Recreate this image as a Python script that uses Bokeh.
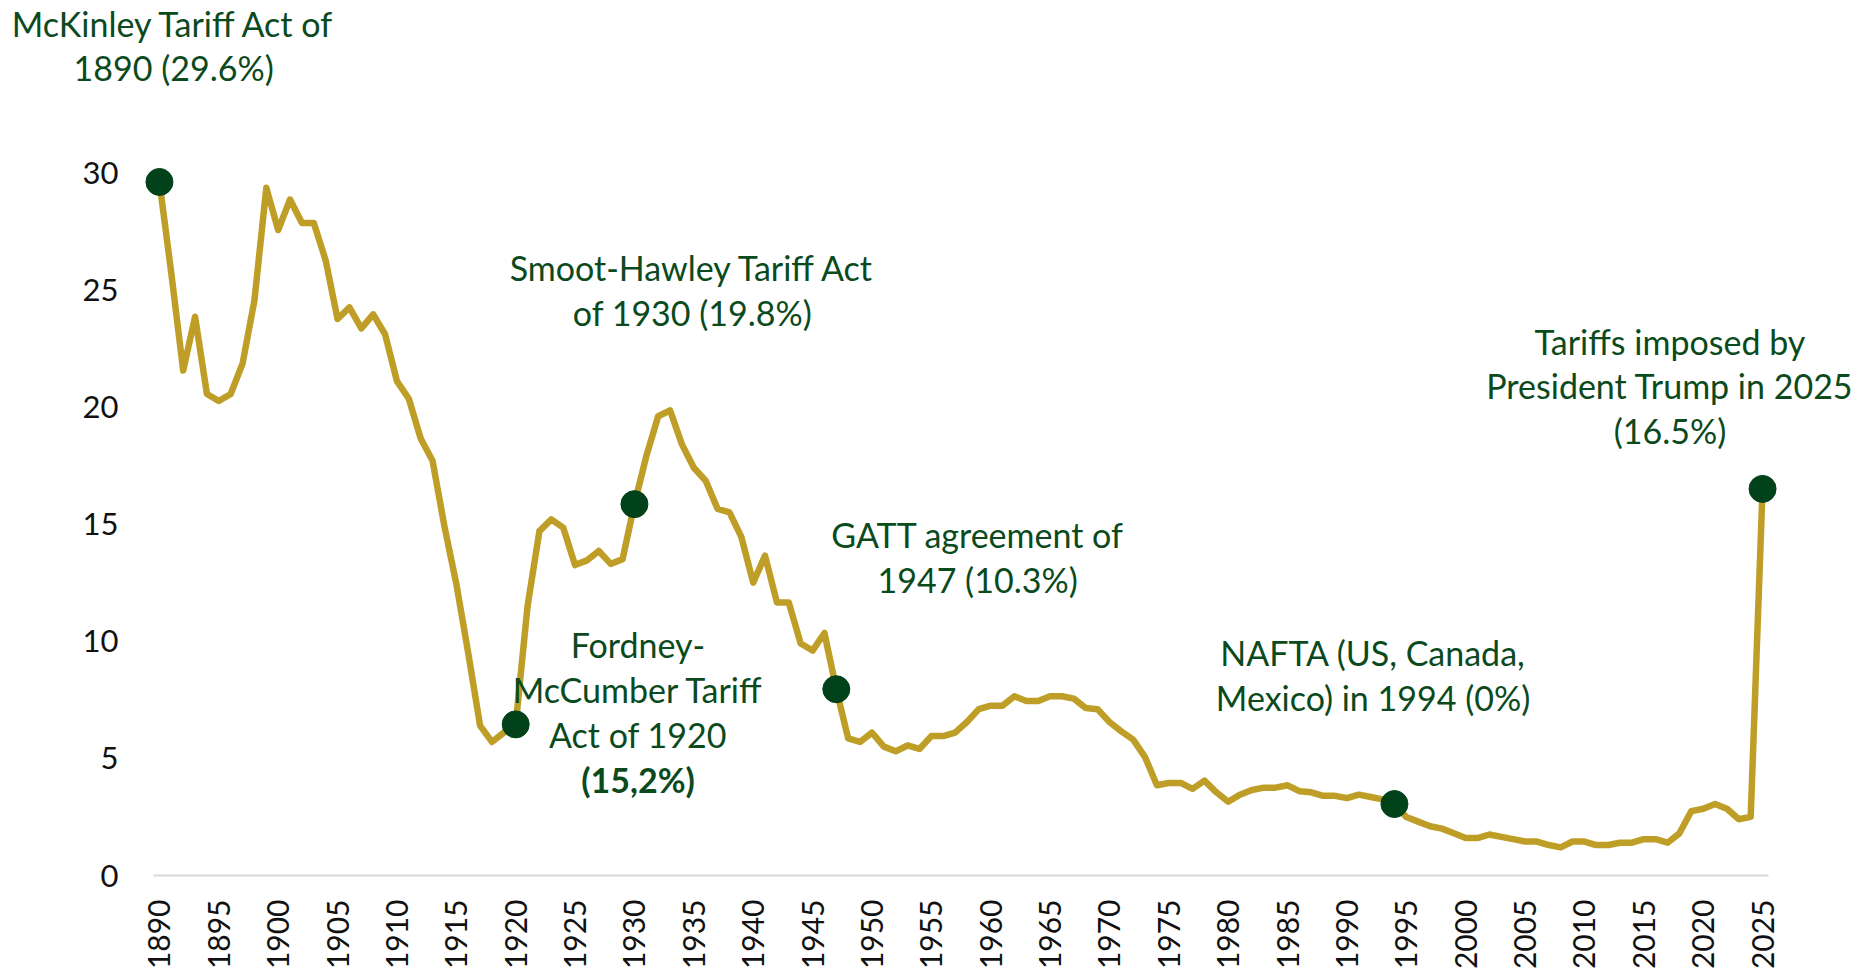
from bokeh.plotting import figure
from bokeh.models import Range1d, FixedTicker, Label, ColumnDataSource
from bokeh.embed import file_html
from bokeh.resources import INLINE

# ---------------- data ----------------
years = list(range(1890, 2026))
tariff = [
    29.6, 25.7, 21.55, 23.85, 20.55, 20.25, 20.55, 21.85, 24.55, 29.35,   # 1890-1899
    27.55, 28.85, 27.85, 27.85, 26.25, 23.75, 24.25, 23.35, 23.95, 23.1,  # 1900-1909
    21.1, 20.35, 18.65, 17.7, 14.9, 12.45, 9.5, 6.4, 5.7, 6.1,            # 1910-1919
    6.45, 11.5, 14.7, 15.2, 14.85, 13.25, 13.45, 13.85, 13.3, 13.5,       # 1920-1929
    15.85, 17.9, 19.6, 19.85, 18.4, 17.4, 16.85, 15.65, 15.5, 14.45,      # 1930-1939
    12.5, 13.65, 11.65, 11.65, 9.9, 9.6, 10.35, 7.95, 5.85, 5.7,          # 1940-1949
    6.1, 5.5, 5.3, 5.55, 5.4, 5.95, 5.95, 6.1, 6.55, 7.1,                 # 1950-1959
    7.25, 7.25, 7.65, 7.45, 7.45, 7.65, 7.65, 7.55, 7.15, 7.1,            # 1960-1969
    6.55, 6.15, 5.8, 5.05, 3.85, 3.95, 3.95, 3.7, 4.05, 3.55,             # 1970-1979
    3.15, 3.45, 3.65, 3.75, 3.75, 3.85, 3.6, 3.55, 3.4, 3.4,              # 1980-1989
    3.3, 3.45, 3.35, 3.25, 3.05, 2.5, 2.3, 2.1, 2.0, 1.8,                 # 1990-1999
    1.6, 1.6, 1.75, 1.65, 1.55, 1.45, 1.45, 1.3, 1.2, 1.45,               # 2000-2009
    1.45, 1.3, 1.3, 1.4, 1.4, 1.55, 1.55, 1.4, 1.8, 2.75,                 # 2010-2019
    2.85, 3.05, 2.85, 2.4, 2.5, 16.5,                                     # 2020-2025
]
assert len(years) == len(tariff)

highlight_years = [1890, 1920, 1930, 1947, 1994, 2025]
x_ticks = [1890, 1895, 1900, 1905, 1910, 1915, 1920, 1925, 1930, 1935, 1940,
           1945, 1950, 1955, 1960, 1965, 1970, 1975, 1980, 1985, 1990, 1995,
           2000, 2005, 2010, 2015, 2020, 2025]
y_ticks = [0, 5, 10, 15, 20, 25, 30]

# annotation texts: (text, x, y, bold)
annotations = [
    ("McKinley Tariff Act of", 1891.2, 36.35, False),
    ("1890 (29.6%)", 1891.2, 34.5, False),
    ("Smoot-Hawley Tariff Act", 1934.9, 25.95, False),
    ("of 1930 (19.8%)", 1934.9, 24.05, False),
    ("Fordney-", 1930.3, 9.85, False),
    ("McCumber Tariff", 1930.3, 7.93, False),
    ("Act of 1920", 1930.3, 6.0, False),
    ("(15,2%)", 1930.3, 4.1, True),
    ("GATT agreement of", 1958.9, 14.55, False),
    ("1947 (10.3%)", 1958.9, 12.65, False),
    ("NAFTA (US, Canada,", 1992.2, 9.5, False),
    ("Mexico) in 1994 (0%)", 1992.2, 7.58, False),
    ("Tariffs imposed by", 2017.2, 22.8, False),
    ("President Trump in 2025", 2017.2, 20.9, False),
    ("(16.5%)", 2017.2, 18.98, False),
]

# ---------------- styling ----------------
LINE_COLOR = "#BF9E27"
DOT_COLOR = "#02421A"
TEXT_COLOR = "#0B4A1D"
FONT = "Lato"

W, H = 1852, 969
cat_lo = years[0] - 0.5
cat_hi = years[-1] + 0.5
px_per_year = 11.875
px_per_unit = 23.43
x_lo = cat_lo - 153 / px_per_year
x_hi = cat_hi + (W - 1768) / px_per_year
y_lo = -(H - 875) / px_per_unit
y_hi = 875 / px_per_unit

p = figure(
    width=W, height=H,
    x_range=Range1d(x_lo, x_hi),
    y_range=Range1d(y_lo, y_hi),
    output_backend="svg", toolbar_location=None,
    min_border_left=0, min_border_right=0,
    min_border_top=0, min_border_bottom=0,
)
p.outline_line_color = None
p.background_fill_color = "white"
p.border_fill_color = "white"
p.xgrid.visible = False
p.ygrid.visible = False

src = ColumnDataSource(dict(year=years, val=tariff))
p.line("year", "val", source=src, line_color=LINE_COLOR, line_width=6.5,
       line_join="round")

hx = [y for y in highlight_years]
hy = [tariff[years.index(y)] for y in highlight_years]
p.scatter(hx, hy, size=27, fill_color=DOT_COLOR, line_color=DOT_COLOR)

# axes (drawn at fixed locations inside the frame)
xa = p.xaxis[0]
xa.ticker = FixedTicker(ticks=x_ticks)
xa.fixed_location = 0
xa.bounds = (cat_lo, cat_hi)
xa.major_label_orientation = 1.5707963267948966
xa.axis_line_color = "#D9D9D9"
xa.axis_line_width = 2
xa.major_tick_line_color = None
xa.minor_tick_line_color = None
xa.major_tick_out = 0
xa.major_tick_in = 0
xa.major_label_standoff = 24
xa.major_label_text_font = FONT
xa.major_label_text_font_size = "30px"
xa.major_label_text_color = "#111111"

ya = p.yaxis[0]
ya.ticker = FixedTicker(ticks=y_ticks)
ya.fixed_location = cat_lo
ya.axis_line_color = None
ya.major_tick_line_color = None
ya.minor_tick_line_color = None
ya.major_tick_out = 0
ya.major_tick_in = 0
ya.major_label_standoff = 35
ya.major_label_text_font = FONT
ya.major_label_text_font_size = "31px"
ya.major_label_text_color = "#111111"

for text, x, y, bold in annotations:
    p.add_layout(Label(
        x=x, y=y, text=text,
        text_align="center", text_baseline="middle",
        text_font=FONT, text_font_size="34px",
        text_font_style="bold" if bold else "normal",
        text_color=TEXT_COLOR,
    ))

open("out.html", "w").write(file_html(p, INLINE))
